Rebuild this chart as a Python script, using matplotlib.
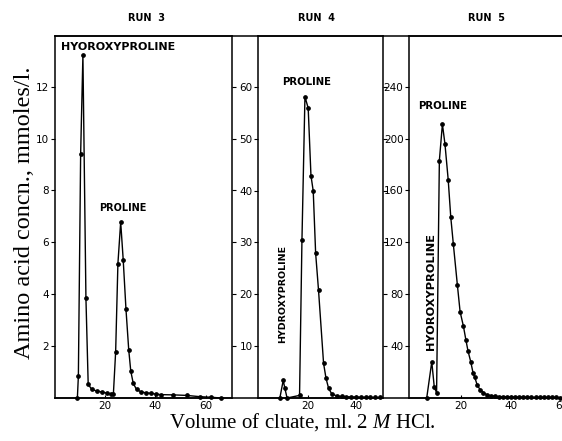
import matplotlib
matplotlib.use("Agg")
import matplotlib.pyplot as plt
from matplotlib.lines import Line2D

# ---------------- data ----------------
run3_x = [9.0, 9.4, 10.3, 11.2, 12.4, 13.3, 14.7, 16.7, 18.7, 20.6, 22.3, 23.3,
          24.2, 25.1, 26.2, 27.2, 28.3, 29.4, 30.2, 31.2, 32.5, 34.2, 36.1, 38.1,
          40.2, 42.2, 47.1, 52.4, 57.7, 62.0, 66.0]
run3_y = [0.0, 0.84, 9.4, 13.2, 3.85, 0.53, 0.33, 0.27, 0.23, 0.19, 0.16, 0.15,
          1.78, 5.18, 6.78, 5.33, 3.42, 1.85, 1.04, 0.56, 0.33, 0.24, 0.20, 0.18,
          0.15, 0.13, 0.12, 0.10, 0.05, 0.03, 0.0]

run4_x = [8.3, 9.7, 10.4, 11.3, 16.5, 17.5, 18.75, 20.1, 21.25, 22.2, 23.2, 24.4,
          26.5, 27.5, 28.6, 29.9, 32.0, 34.0, 36.0, 38.0, 40.0, 42.0, 44.0, 46.0,
          48.0, 50.0]
run4_y = [0.0, 3.4, 1.86, 0.0, 0.5, 30.4, 58.1, 55.9, 42.9, 39.9, 27.9, 20.8,
          6.7, 3.85, 1.86, 0.8, 0.4, 0.3, 0.25, 0.2, 0.2, 0.15, 0.15, 0.1,
          0.1, 0.1]

run5_x = [6.6, 8.6, 9.6, 10.5, 11.6, 12.8, 13.8, 15.1, 16.1, 17.1, 18.7, 19.8,
          21.1, 22.1, 22.9, 24.0, 24.9, 25.6, 26.6, 27.8, 29.0, 30.3, 31.9, 33.6,
          35.2, 36.8, 38.4, 40.0, 41.6, 43.2, 44.8, 46.4, 48.0, 49.6, 51.2, 52.8,
          54.4, 56.0, 57.6, 59.2, 60.8, 62.4, 64.0]
run5_y = [0.0, 27.9, 8.2, 4.1, 183, 211, 196, 168, 139.5, 119, 87.4, 66.4,
          55.4, 44.6, 36.4, 27.9, 19.5, 15.9, 9.7, 6.2, 4.1, 2.6, 1.8, 1.3,
          1.1, 1.0, 0.9, 0.8, 0.8, 0.7, 0.7, 0.6, 0.6, 0.5, 0.5, 0.5,
          0.4, 0.4, 0.4, 0.3, 0.3, 0.3, 0.3]

x_ticks = [20, 40, 60]
run3_yticks = [2, 4, 6, 8, 10, 12]
run4_yticks = [10, 20, 30, 40, 50, 60]
run5_yticks = [40, 80, 120, 160, 200, 240]

run_titles = ["RUN  3", "RUN  4", "RUN  5"]
x_label = "Volume of cluate, ml. 2 $\\it{M}$ HCl."
y_label = "Amino acid concn., mmoles/l."

# ---------------- figure ----------------
W, H = 562, 441
fig = plt.figure(figsize=(W / 100, H / 100), dpi=100)
plt.rcParams["mathtext.fontset"] = "custom"
plt.rcParams["mathtext.it"] = "Liberation Serif:italic"

def fx(x):
    return x / W

def fy(y):
    return 1 - y / H

top_px, bot_px = 36, 398

def make_ax(left_px, right_px):
    ax = fig.add_axes([fx(left_px), fy(bot_px), (right_px - left_px) / W,
                       (bot_px - top_px) / H])
    for s in ax.spines.values():
        s.set_linewidth(1.1)
    ax.tick_params(axis="y", direction="out", length=3, width=0.8, pad=1,
                   labelsize=7.5, right=True)
    ax.tick_params(axis="x", direction="in", length=2, width=0.8, pad=2,
                   labelsize=7.5)
    return ax

ax1 = make_ax(54.7, 232)
ax2 = make_ax(258, 383)
ax3 = make_ax(409, 575)

for ax, xs, ys, yt, xl, yl in [
        (ax1, run3_x, run3_y, run3_yticks, (0, 70.4), (0, 13.95)),
        (ax2, run4_x, run4_y, run4_yticks, (-0.8, 51.25), (0, 69.8)),
        (ax3, run5_x, run5_y, run5_yticks, (-0.4, 65.2), (0, 279))]:
    ax.plot(xs, ys, color="black", lw=1.0, marker="o", markersize=2.4,
            clip_on=False)
    ax.set_xticks([t for t in x_ticks if xl[0] <= t <= xl[1]])
    ax.set_yticks(yt)
    ax.set_xlim(*xl)
    ax.set_ylim(*yl)
    for lab in ax.get_xticklabels() + ax.get_yticklabels():
        lab.set_fontfamily("DejaVu Sans")

ax3.spines["right"].set_visible(False)

# frame lines across gaps
for ypx in (top_px, bot_px):
    fig.add_artist(Line2D([fx(54.7), fx(562)], [fy(ypx), fy(ypx)],
                          color="black", lw=1.1))

# run titles
for title, cx in zip(run_titles, [147, 316, 487]):
    fig.text(fx(cx), fy(18), title, ha="center", va="center", fontsize=7,
             fontweight="bold", family="DejaVu Sans")

lab_kw = dict(fontweight="bold", family="DejaVu Sans")
fig.text(fx(61), fy(47), "HYOROXYPROLINE", ha="left", va="center",
         fontsize=8, **lab_kw)
fig.text(fx(123), fy(208), "PROLINE", ha="center", va="center",
         fontsize=7, **lab_kw)
fig.text(fx(307), fy(82), "PROLINE", ha="center", va="center",
         fontsize=7.3, **lab_kw)
fig.text(fx(283), fy(294), "HYDROXYPROLINE", ha="center", va="center",
         rotation=90, fontsize=6.8, **lab_kw)
fig.text(fx(443), fy(106), "PROLINE", ha="center", va="center",
         fontsize=7.3, **lab_kw)
fig.text(fx(431), fy(291), "HYOROXYPROLINE", ha="center", va="center",
         rotation=90, fontsize=8.2, **lab_kw)

# axis labels
fig.text(fx(302), fy(422), x_label, ha="center", va="center", fontsize=15,
         family="Liberation Serif")
fig.text(fx(25), fy(213), y_label, ha="center", va="center", fontsize=17.5,
         rotation=90, family="Liberation Serif")

fig.savefig("out.png", dpi=100)
